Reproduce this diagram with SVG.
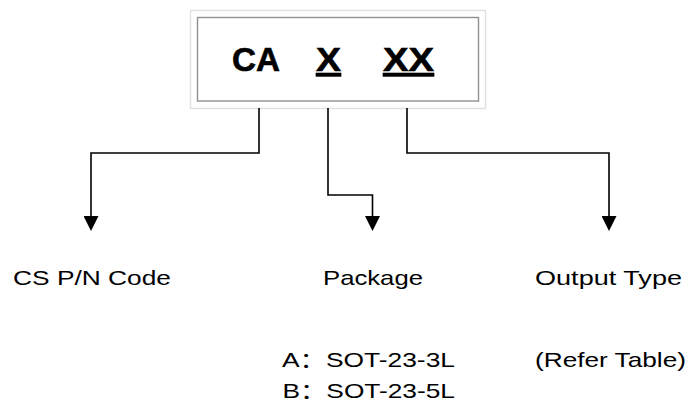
<svg xmlns="http://www.w3.org/2000/svg" width="692" height="413" viewBox="0 0 692 413">
  <style>
    .code { font-family: "Liberation Sans", Arial, sans-serif; font-weight: bold; font-size: 33px; fill: #000; stroke: #000; stroke-width: 0.6; }
    .lbl { font-family: "Liberation Sans", Arial, "Noto Sans CJK SC", sans-serif; font-size: 21px; fill: #000; }
    .conn { fill: none; stroke: #000; stroke-width: 1.6; }
  </style>
  <defs>
    <marker id="arrow" markerUnits="userSpaceOnUse" markerWidth="15" markerHeight="15" viewBox="0 0 15 15" refX="0" refY="7.5" orient="auto">
      <path d="M0,0 L15,7.5 L0,15 z" fill="#000"/>
    </marker>
  </defs>
  <rect width="692" height="413" fill="#fff"/>

  <g id="code-box">
    <rect x="190.5" y="10.5" width="295" height="98" fill="#fff" stroke="#e0e0e0" stroke-width="1.4"/>
    <rect x="197.5" y="17.5" width="281" height="83.5" fill="none" stroke="#909090" stroke-width="1.4"/>
    <text class="code" x="232" y="71" textLength="48" lengthAdjust="spacingAndGlyphs">CA</text>
    <text class="code" x="316" y="71" textLength="25" lengthAdjust="spacingAndGlyphs" text-decoration="underline">X</text>
    <text class="code" x="383" y="71" textLength="51" lengthAdjust="spacingAndGlyphs" text-decoration="underline">XX</text>
  </g>

  <g id="connectors">
    <path class="conn" d="M259,108 V153 H91 V216" marker-end="url(#arrow)"/>
    <path class="conn" d="M328,108 V195 H372.5 V216" marker-end="url(#arrow)"/>
    <path class="conn" d="M407,108 V153 H609 V216" marker-end="url(#arrow)"/>
  </g>

  <g id="cs-pn-code">
    <text class="lbl" x="13" y="285" textLength="158" lengthAdjust="spacingAndGlyphs">CS P/N Code</text>
  </g>

  <g id="package">
    <text class="lbl" x="323" y="285" textLength="100" lengthAdjust="spacingAndGlyphs">Package</text>
    <text class="lbl" x="282" y="367" textLength="173" lengthAdjust="spacingAndGlyphs">A：SOT-23-3L</text>
    <text class="lbl" x="282.5" y="398" textLength="172.5" lengthAdjust="spacingAndGlyphs">B：SOT-23-5L</text>
  </g>

  <g id="output-type">
    <text class="lbl" x="535" y="285" textLength="147" lengthAdjust="spacingAndGlyphs">Output Type</text>
    <text class="lbl" x="535" y="367" textLength="151" lengthAdjust="spacingAndGlyphs">(Refer Table)</text>
  </g>
</svg>
